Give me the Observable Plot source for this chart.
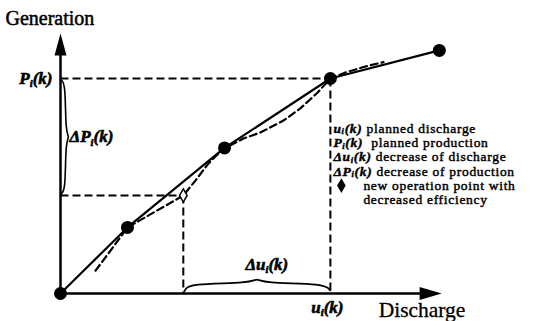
<!DOCTYPE html>
<html><head><meta charset="utf-8">
<script src="https://cdn.jsdelivr.net/npm/d3@7"></script>
<script src="https://cdn.jsdelivr.net/npm/@observablehq/plot@0.6"></script>
<style>body{margin:0;background:#fff}</style>
</head><body><div id="chart"></div>
<script>
// Planned (best-efficiency) discharge / generation characteristic
const plannedU = [0, 17.4, 42.6, 70.1, 98.4];
const plannedP = [0, 25.4, 56.0, 82.7, 93.5];
// Actual characteristic (dashed)
const actualU = [9.1, 13.0, 17.4, 31.9, 35.1, 38.2, 40.5, 42.6, 47.5, 51.9, 57.9, 62.3, 66.8, 70.1, 74.0, 79.2, 83.9];
const actualP = [8.8, 16.5, 25.4, 37.7, 43.5, 49.6, 53.1, 55.8, 59.6, 61.9, 66.5, 71.2, 77.3, 82.7, 85.0, 87.3, 89.0];
// planned operating point index and new operating point
const plannedIndex = 3;
const newU = 31.9, newP = 37.7;
const axisMaxU = 99, axisMaxP = 100;
// Texts
const axisTitleX = "Discharge";
const axisTitleY = "Generation";
const legendRows = ["uᵢ(k) planned discharge", "Pᵢ(k)  planned production", "Δuᵢ(k) decrease of discharge", "ΔPᵢ(k) decrease of production"];
const legendDiamondRows = ["new operation point with", "decreased efficiency"];
const labelP = "Pᵢ(k)", labelU = "uᵢ(k)", labelDP = "ΔPᵢ(k)", labelDU = "Δuᵢ(k)";

const U = plannedU[plannedIndex], P = plannedP[plannedIndex];
const planned = plannedU.map((u, i) => ({u, p: plannedP[i]}));
const actual = actualU.map((u, i) => ({u, p: actualP[i]}));
const guides = [
  {x1: 0, y1: P, x2: U, y2: P},
  {x1: U, y1: P, x2: U, y2: 0},
  {x1: 0, y1: newP, x2: newU, y2: newP},
  {x1: newU, y1: newP, x2: newU, y2: 0}
];
// braces (built from the data values)
const midP = (P + newP) / 2, midU = (U + newU) / 2;
const braceV = [
  {u: 0.2, p: P - 0.6}, {u: 1.3, p: P - 2.2}, {u: 1.3, p: midP + 1.6}, {u: 2.4, p: midP},
  {u: 1.3, p: midP - 1.6}, {u: 1.3, p: newP + 2.2}, {u: 0.2, p: newP + 0.6}
];
const braceH = [
  {u: newU + 0.3, p: 0.9}, {u: newU + 1.3, p: 3.9}, {u: midU - 1.4, p: 3.9}, {u: midU, p: 6.0},
  {u: midU + 1.4, p: 3.9}, {u: U - 1.3, p: 3.9}, {u: U - 0.1, p: 1.2}
];

const upHead = {draw(ctx) { ctx.moveTo(0, 0); ctx.lineTo(-6, 22); ctx.lineTo(6, 22); ctx.closePath(); }};
const rightHead = {draw(ctx) { ctx.moveTo(0, 0); ctx.lineTo(-22, -6.5); ctx.lineTo(-22, 6.5); ctx.closePath(); }};

const font = "'Liberation Serif', 'Times New Roman', serif";
// faux-bold serif text
const bold = (sw) => ({fill: "black", stroke: "black", strokeWidth: sw, paintOrder: "fill"});
const legendMarks = legendRows.map((t, i) => Plot.text([t], {
  x: U, y: 63.5 - i * 5.5, text: d => d, dx: 3, textAnchor: "start", fontSize: 13.5, ...bold(0.45)
}));
const legendMarks2 = legendDiamondRows.map((t, i) => Plot.text([t], {
  x: U, y: 41.5 - i * 5.5, text: d => d, dx: 33, textAnchor: "start", fontSize: 13.5, ...bold(0.45)
}));

const chart = Plot.plot({
  width: 543, height: 321,
  marginLeft: 60, marginRight: 98, marginTop: 33, marginBottom: 28,
  x: {domain: [0, 100], axis: null},
  y: {domain: [0, 100], axis: null},
  style: {fontFamily: font, background: "white", color: "black"},
  marks: [
    Plot.link(guides, {x1: "x1", y1: "y1", x2: "x2", y2: "y2", stroke: "black", strokeWidth: 2, strokeDasharray: "8,4"}),
    Plot.ruleY([0], {x1: 0, x2: axisMaxU - 4, stroke: "black", strokeWidth: 2.5}),
    Plot.ruleX([0], {y1: 0, y2: axisMaxP - 6, stroke: "black", strokeWidth: 2.5}),
    Plot.dot([0], {x: 0, y: axisMaxP, symbol: upHead, fill: "black", stroke: "none"}),
    Plot.dot([0], {x: axisMaxU, y: 0, symbol: rightHead, fill: "black", stroke: "none"}),
    Plot.line(actual, {x: "u", y: "p", stroke: "black", strokeWidth: 2.2, strokeDasharray: "7,4"}),
    Plot.line(planned, {x: "u", y: "p", stroke: "black", strokeWidth: 2.2}),
    Plot.dot(planned, {x: "u", y: "p", r: 6.5, fill: "black", stroke: "none"}),
    Plot.dot([0], {x: newU, y: newP, symbol: "diamond", r: 4, fill: "white", stroke: "black", strokeWidth: 1.5}),
    Plot.line(braceV, {x: "u", y: "p", stroke: "black", strokeWidth: 1.6, curve: "basis"}),
    Plot.line(braceH, {x: "u", y: "p", stroke: "black", strokeWidth: 1.8, curve: "basis"}),
    Plot.text([axisTitleY], {x: 0, y: axisMaxP, text: d => d, dx: -55, dy: -15, textAnchor: "start", fontSize: 20, ...bold(0.5)}),
    Plot.text([axisTitleX], {x: axisMaxU, y: 0, text: d => d, dx: -63, dy: 17, textAnchor: "start", fontSize: 21.5, ...bold(0.3)}),
    Plot.text([labelP], {x: 0, y: P, text: d => d, dx: -8, textAnchor: "end", fontSize: 17, ...bold(0.6)}),
    Plot.text([labelDP], {x: 0, y: midP, text: d => d, dx: 9, textAnchor: "start", fontSize: 17, ...bold(0.6)}),
    Plot.text([labelDU], {x: midU, y: 0, text: d => d, dx: 10, dy: -29, textAnchor: "middle", fontSize: 17, ...bold(0.6)}),
    Plot.text([labelU], {x: U, y: 0, text: d => d, dx: -3, dy: 14, textAnchor: "middle", fontSize: 17, ...bold(0.6)}),
    ...legendMarks,
    Plot.dot([0], {x: U, y: 41.5, dx: 11, symbol: "diamond", r: 4.5, fill: "black", stroke: "none"}),
    ...legendMarks2
  ]
});
document.getElementById("chart").appendChild(chart);

// Italic symbols with subscript i; slight letter spacing for legend text
const NS = "http://www.w3.org/2000/svg";
const legendSet = new Set([...legendRows, ...legendDiamondRows]);
chart.querySelectorAll("text").forEach(el => {
  const s = el.textContent;
  const inLegend = legendSet.has(s);
  if (inLegend) el.setAttribute("letter-spacing", "0.7");
  if (!s.includes("(k)")) return;
  const fs = parseFloat(getComputedStyle(el).fontSize) || 12;
  const sub = inLegend ? 0.12 : 0.2;
  const idx = s.indexOf("(k)") + 3;
  const sym = s.slice(0, idx), rest = s.slice(idx);
  while (el.firstChild) el.removeChild(el.firstChild);
  const parts = sym.split("ᵢ");
  const mk = (t, attrs) => {
    const ts = document.createElementNS(NS, "tspan");
    ts.textContent = t;
    for (const k in attrs) ts.setAttribute(k, attrs[k]);
    el.appendChild(ts);
  };
  const it = {"font-style": "italic", "font-weight": "bold"};
  mk(parts[0], it);
  mk("i", {...it, "font-size": fs * 0.62, dy: fs * sub});
  mk(parts[1], {...it, dy: -fs * sub});
  if (rest) mk(rest, {"font-style": "normal"});
});
</script>
</body></html>
